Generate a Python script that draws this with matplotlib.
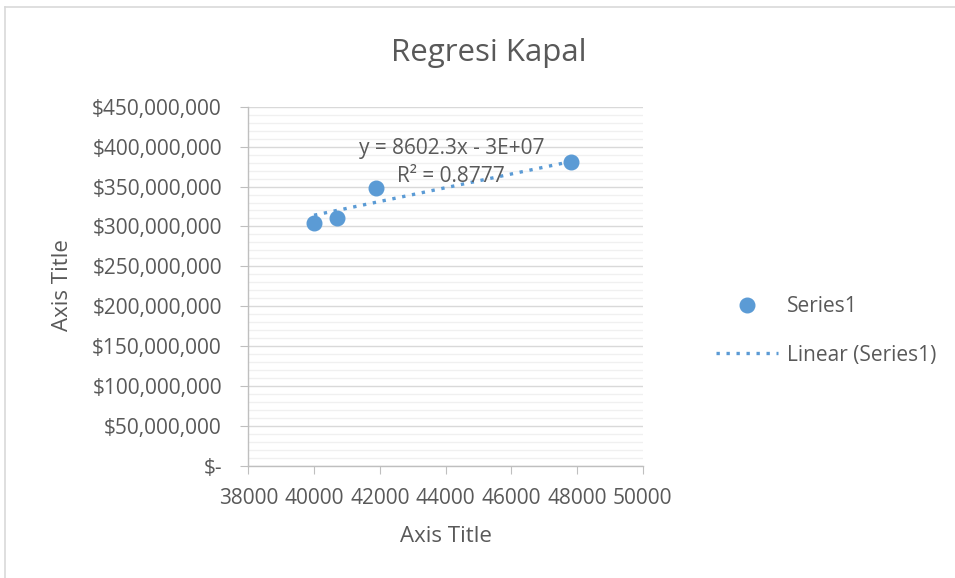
import matplotlib
matplotlib.use("Agg")
import matplotlib.pyplot as plt
from matplotlib.lines import Line2D
from matplotlib.ticker import FuncFormatter, MultipleLocator
import numpy as np

# Ship data: size vs. price
x_vals = [40000, 40707, 41876, 47808]
y_vals = [304.7e6, 310.2e6, 348.6e6, 380.3e6]

# Linear trendline coefficients
slope = 8602.3
intercept = -3.0e7
r_squared = 0.8777

title = "Regresi Kapal"
x_label = "Axis Title"
y_label = "Axis Title"
series_name = "Series1"

BLUE = "#5b9bd5"
TEXT = "#595959"
FONT = ["Open Sans", "DejaVu Sans"]

plt.rcParams["font.family"] = FONT

W, H = 955, 578
fig = plt.figure(figsize=(W / 100, H / 100), dpi=100)
ax = fig.add_axes([248.3 / W, 1 - 466 / H, (642.7 - 248.3) / W, (466 - 106.7) / H])

# Scatter points
ax.plot(x_vals, y_vals, linestyle="none", marker="o", markersize=10.5,
        color=BLUE, label=series_name, zorder=4)

# Trendline over the data range
xt = np.array([min(x_vals), max(x_vals)])
ax.plot(xt, slope * xt + intercept, linestyle=(0, (1, 2.0)), linewidth=2.4,
        color=BLUE, label=f"Linear ({series_name})", zorder=3)

ax.set_xlim(38000, 50000)
ax.set_ylim(0, 450e6)
ax.xaxis.set_major_locator(MultipleLocator(2000))
ax.yaxis.set_major_locator(MultipleLocator(50e6))
ax.yaxis.set_minor_locator(MultipleLocator(10e6))


def money(v, pos):
    if abs(v) < 1:
        return "$-"
    return f"${v:,.0f}"


ax.yaxis.set_major_formatter(FuncFormatter(money))

ax.grid(True, which="major", axis="y", color="#d9d9d9", linewidth=1.0, zorder=0)
ax.grid(True, which="minor", axis="y", color="#f0f0f0", linewidth=1.0, zorder=0)
ax.set_axisbelow(True)

for s in ("top", "right"):
    ax.spines[s].set_visible(False)
for s in ("left", "bottom"):
    ax.spines[s].set_color("#bfbfbf")
    ax.spines[s].set_linewidth(1.0)

ax.tick_params(axis="x", which="major", direction="out", length=6, color="#bfbfbf",
               labelsize=15, labelcolor=TEXT, pad=10)
ax.tick_params(axis="y", which="major", direction="out", length=6, color="#bfbfbf",
               labelsize=15, labelcolor=TEXT, pad=13)
ax.tick_params(axis="y", which="minor", length=0)

# Axis titles and chart title
fig.text(446 / W, 1 - 537 / H, x_label, fontsize=16, color=TEXT, ha="center", va="center")
fig.text(62 / W, 1 - 285 / H, y_label, fontsize=16, color=TEXT, ha="center", va="center",
         rotation=90)
fig.text(489 / W, 1 - 53 / H, title, fontsize=22.5, color=TEXT, ha="center", va="center")

# Trendline equation
sign = "-" if intercept < 0 else "+"
eq = f"y = {slope:.1f}x {sign} {abs(intercept):.0E}"
ax.text(44200, 398e6, eq, fontsize=15, color=TEXT, ha="center", va="center", zorder=5)
ax.text(44150, 363e6, f"R² = {r_squared}", fontsize=15, color=TEXT,
        ha="center", va="center", zorder=5)

fig.legend(loc="center left", bbox_to_anchor=(697 / W, 1 - 331 / H),
           frameon=False, fontsize=15, labelcolor=TEXT,
           handlelength=3.0, labelspacing=1.3, handletextpad=0.4)

# Chart frame edges
fig.add_artist(Line2D([5 / W, 5 / W], [0, 1 - 7 / H], color="#d9d9d9", linewidth=1.2))
fig.add_artist(Line2D([5 / W, 1], [1 - 7 / H, 1 - 7 / H], color="#d9d9d9", linewidth=1.2))

fig.savefig("out.png", dpi=100, facecolor="white")
